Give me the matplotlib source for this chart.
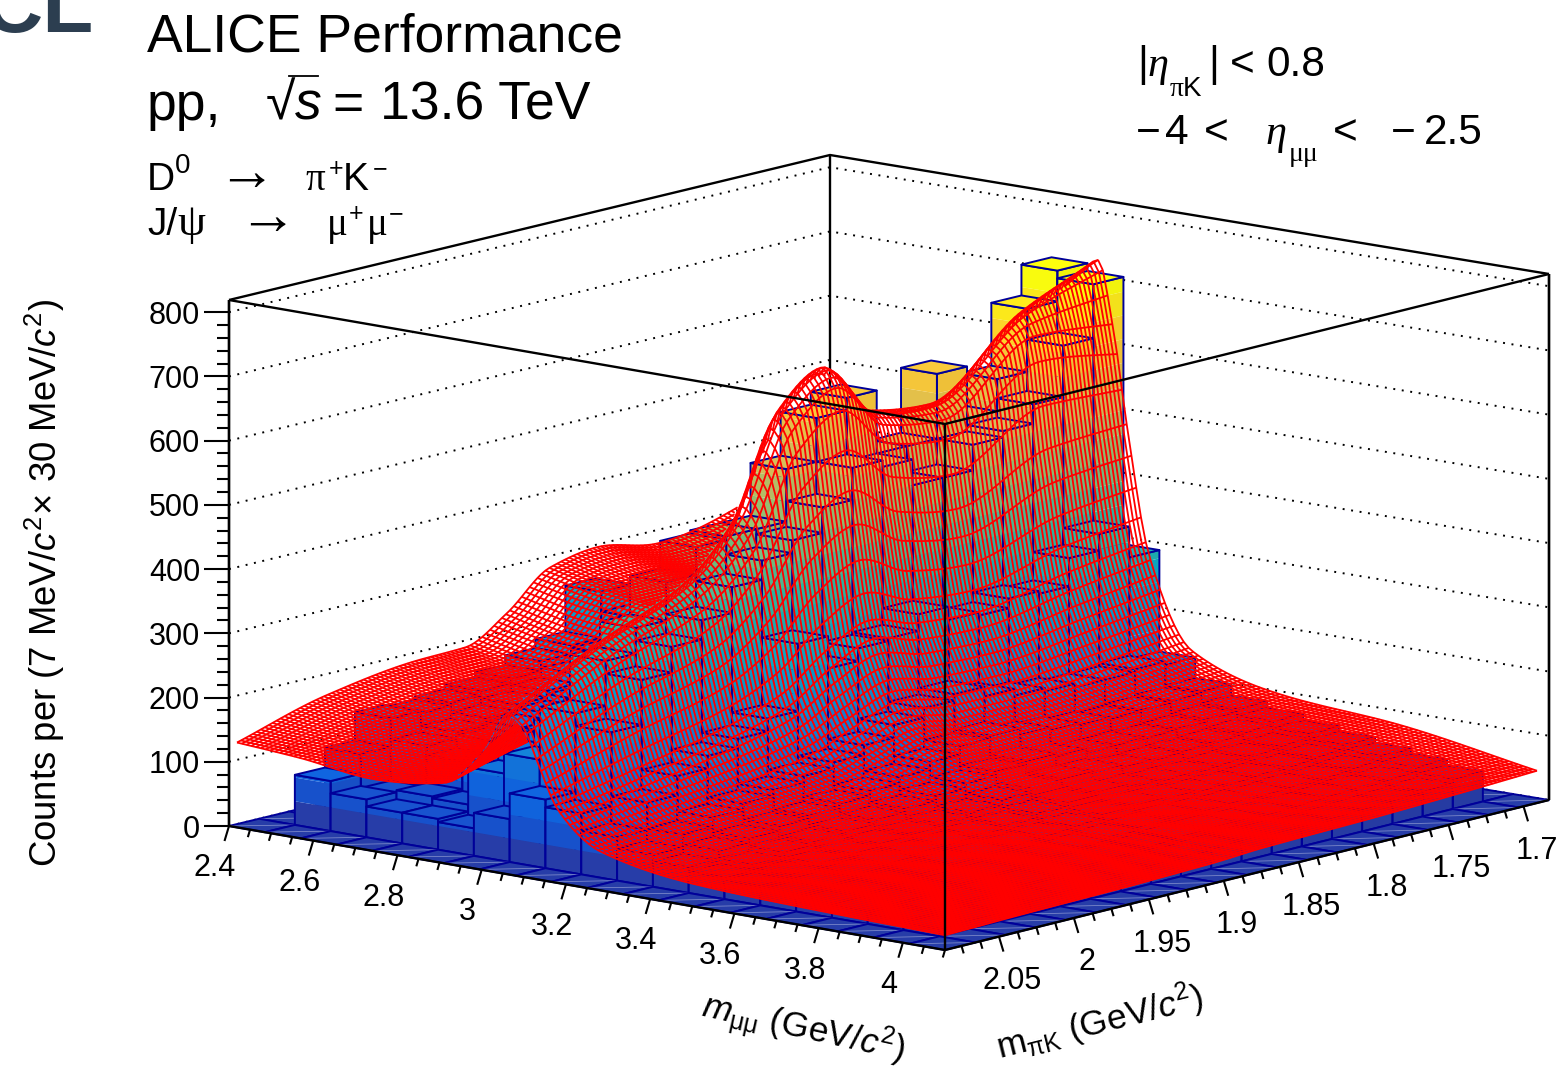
import numpy as np
import matplotlib
matplotlib.use("Agg")
import matplotlib.pyplot as plt
from matplotlib.collections import PolyCollection, LineCollection
from matplotlib.colors import LinearSegmentedColormap

plt.rcParams['font.family'] = ['Liberation Sans', 'DejaVu Sans']
plt.rcParams['mathtext.fontset'] = 'custom'
plt.rcParams['mathtext.rm'] = 'Liberation Sans'
plt.rcParams['mathtext.it'] = 'Liberation Sans:italic'
plt.rcParams['mathtext.bf'] = 'Liberation Sans:bold'

# ---- axis ranges and ticks
M_MIN, M_MAX = 2.4, 4.1
K_MIN, K_MAX = 1.683, 2.086
Z_MAX = 819.0
m_major = [2.4, 2.6, 2.8, 3.0, 3.2, 3.4, 3.6, 3.8, 4.0]
m_labels = ['2.4', '2.6', '2.8', '3', '3.2', '3.4', '3.6', '3.8', '4']
k_major = [1.7, 1.75, 1.8, 1.85, 1.9, 1.95, 2.0, 2.05]
k_labels = ['1.7', '1.75', '1.8', '1.85', '1.9', '1.95', '2', '2.05']
z_major = [0, 100, 200, 300, 400, 500, 600, 700, 800]

# ---- histogram counts: one list per mpiK bin (from high mpiK to low), 20 mmumu bins
c00 = [0] * 20
c01 = [0, 78, 59, 48, 48, 43, 67, 107, 95, 68, 50, 40, 34, 30, 26, 22, 20, 16, 12, 0]
c02 = [0, 109, 56, 62, 59, 117, 148, 230, 210, 110, 70, 55, 42, 36, 30, 26, 22, 20, 14, 0]
c03 = [0, 153, 120, 105, 110, 135, 190, 300, 280, 140, 85, 62, 50, 42, 36, 30, 26, 22, 18, 0]
c04 = [0, 150, 130, 125, 130, 150, 210, 340, 320, 160, 95, 70, 55, 46, 40, 34, 28, 24, 20, 0]
c05 = [0, 155, 140, 135, 135, 160, 230, 400, 350, 175, 105, 75, 60, 50, 44, 38, 30, 26, 22, 0]
c06 = [0, 162, 150, 145, 150, 175, 250, 443, 390, 195, 115, 82, 66, 54, 46, 40, 34, 28, 24, 0]
c07 = [0, 170, 160, 155, 165, 190, 270, 448, 420, 300, 125, 90, 72, 58, 50, 42, 36, 30, 26, 0]
c08 = [0, 185, 175, 170, 180, 205, 300, 448, 440, 250, 140, 100, 80, 64, 54, 46, 38, 32, 28, 0]
c09 = [0, 199, 195, 190, 200, 225, 320, 530, 480, 270, 160, 112, 88, 72, 60, 50, 42, 36, 30, 0]
c10 = [0, 271, 240, 225, 235, 260, 350, 598, 530, 274, 175, 125, 95, 78, 66, 56, 46, 40, 32, 0]
c11 = [0, 250, 250, 240, 245, 270, 360, 618, 520, 300, 185, 130, 100, 82, 70, 60, 50, 42, 34, 0]
c12 = [0, 230, 235, 225, 235, 260, 345, 520, 480, 280, 170, 120, 95, 80, 66, 58, 48, 40, 32, 0]
c13 = [0, 240, 220, 210, 225, 250, 335, 520, 480, 275, 160, 115, 90, 76, 64, 56, 48, 40, 30, 0]
c14 = [0, 250, 225, 215, 225, 255, 340, 621, 520, 290, 155, 112, 90, 76, 64, 56, 48, 42, 32, 0]
c15 = [0, 270, 240, 230, 240, 270, 360, 540, 530, 286, 150, 110, 90, 78, 66, 58, 50, 44, 34, 0]
c16 = [0, 300, 270, 260, 270, 300, 390, 590, 560, 330, 150, 112, 92, 80, 68, 60, 52, 46, 36, 0]
c17 = [0, 360, 310, 300, 310, 340, 430, 688, 640, 356, 155, 115, 96, 84, 72, 64, 56, 48, 40, 0]
c18 = [0, 420, 370, 340, 350, 380, 470, 736, 724, 308, 150, 118, 100, 90, 80, 72, 64, 56, 47, 0]
c19 = [0] * 20

# ---- fit surface read at nodes: one list per mpiK node
surf_m = [2.4, 2.57, 2.74, 2.91, 3.012, 3.063, 3.097, 3.131, 3.182, 3.284, 3.505, 3.76, 4.1]
surf_k = [2.086, 2.026, 1.965, 1.933, 1.905, 1.876, 1.844, 1.804, 1.743, 1.683]
s0 = [133, 125, 112, 125, 190, 250, 235, 185, 113, 60, 35, 28, 23]
s1 = [175, 150, 135, 160, 260, 325, 310, 245, 140, 75, 42, 32, 26]
s2 = [195, 170, 155, 190, 310, 390, 370, 290, 170, 85, 48, 36, 28]
s3 = [197, 175, 165, 210, 360, 470, 445, 350, 195, 95, 52, 38, 30]
s4 = [235, 210, 200, 260, 480, 620, 590, 440, 240, 115, 60, 42, 32]
s5 = [290, 265, 250, 330, 560, 670, 640, 480, 270, 135, 72, 48, 36]
s6 = [305, 270, 245, 310, 490, 585, 565, 430, 250, 125, 72, 50, 38]
s7 = [288, 255, 240, 300, 480, 572, 550, 412, 245, 125, 76, 56, 40]
s8 = [320, 290, 290, 370, 570, 680, 645, 470, 270, 135, 88, 70, 45]
s9 = [430, 427, 510, 630, 715, 740, 630, 480, 290, 150, 104, 90, 51]

# ---- layout of the projected box (pixels)
C_L = np.array([229.0, 826.0])
C_F = np.array([945.0, 950.0])
C_R = np.array([1549.0, 800.0])
C_B = np.array([830.0, 681.0])
Z_PX = 526.0 / Z_MAX


def proj(m, k, z=0.0):
    a = (np.asarray(m, float) - M_MIN) / (M_MAX - M_MIN)
    b = (K_MAX - np.asarray(k, float)) / (K_MAX - K_MIN)
    x = (C_L[0] * (1 - a) * (1 - b) + C_F[0] * a * (1 - b) + C_R[0] * a * b + C_B[0] * (1 - a) * b)
    y = (C_L[1] * (1 - a) * (1 - b) + C_F[1] * a * (1 - b) + C_R[1] * a * b + C_B[1] * (1 - a) * b)
    return np.stack([x, y - np.asarray(z, float) * Z_PX], axis=-1)


def pchip(xn, yn, xq):
    xn = np.asarray(xn, float)
    yn = np.asarray(yn, float)
    h = np.diff(xn)
    d = np.diff(yn) / h
    s = np.zeros_like(yn)
    for i in range(1, len(xn) - 1):
        if d[i - 1] * d[i] > 0:
            w1 = 2 * h[i] + h[i - 1]
            w2 = h[i] + 2 * h[i - 1]
            s[i] = (w1 + w2) / (w1 / d[i - 1] + w2 / d[i])
    s[0] = d[0]
    s[-1] = d[-1]
    idx = np.clip(np.searchsorted(xn, xq) - 1, 0, len(h) - 1)
    t = (xq - xn[idx]) / h[idx]
    return ((1 + 2 * t) * (1 - t) ** 2 * yn[idx] + t * (1 - t) ** 2 * h[idx] * s[idx]
            + t ** 2 * (3 - 2 * t) * yn[idx + 1] + t ** 2 * (t - 1) * h[idx] * s[idx + 1])


fig = plt.figure(figsize=(15.62, 10.66), dpi=100)
ax = fig.add_axes([0, 0, 1, 1])
ax.set_xlim(0, 1562)
ax.set_ylim(1066, 0)
ax.axis('off')

BLACK_LW = 1.7
grid = []
for z in z_major:
    grid.append(np.array([proj(M_MIN, K_MAX, z), proj(M_MIN, K_MIN, z), proj(M_MAX, K_MIN, z)]))
ax.add_collection(LineCollection(grid, colors='k', linewidths=1.4, linestyles=[(0, (1.0, 3.4))], zorder=1))
back = [np.array([proj(M_MIN, K_MAX, Z_MAX), proj(M_MIN, K_MIN, Z_MAX), proj(M_MAX, K_MIN, Z_MAX)]),
        np.array([proj(M_MIN, K_MAX, 0), proj(M_MIN, K_MAX, Z_MAX)]),
        np.array([proj(M_MAX, K_MIN, 0), proj(M_MAX, K_MIN, Z_MAX)]),
        np.array([proj(M_MIN, K_MIN, 0), proj(M_MIN, K_MIN, Z_MAX)])]
ax.add_collection(LineCollection(back, colors='k', linewidths=BLACK_LW, zorder=1.5))

# ---- LEGO bars
counts = np.array([c00, c01, c02, c03, c04, c05, c06, c07, c08, c09, c10, c11, c12, c13, c14, c15, c16, c17, c18, c19], float)
m_edges = np.linspace(M_MIN, M_MAX, 21)
k_edges = np.linspace(K_MAX, K_MIN, 21)
bird = LinearSegmentedColormap.from_list('bird', [
    (0.2082, 0.1664, 0.5293), (0.0592, 0.3599, 0.8684), (0.0780, 0.5041, 0.8385),
    (0.0232, 0.6419, 0.7914), (0.1802, 0.7178, 0.6425), (0.5301, 0.7492, 0.4662),
    (0.8186, 0.7328, 0.3499), (0.9956, 0.7862, 0.1968), (0.9764, 0.9832, 0.0539)])
LEVEL = 36.9
NAVY = (0.0, 0.0, 0.6, 1.0)
NONE = (0, 0, 0, 0)
polys, faces, edges, widths = [], [], [], []


def band_color(z, shade=1.0):
    k = min(int(z / LEVEL), 19)
    c = np.array(bird((k + 1) / 20.0)[:3]) * shade
    return (*np.clip(c, 0, 1), 1.0)


def add(p, fc, ec=NONE, lw=0.0):
    polys.append(np.asarray(p))
    faces.append(fc)
    edges.append(ec)
    widths.append(lw)


for i in range(20):
    for j in range(19, -1, -1):
        z = counts[j, i]
        m0, m1, k0, k1 = m_edges[i], m_edges[i + 1], k_edges[j], k_edges[j + 1]
        if z > 0:
            for zz in np.arange(0, z, LEVEL):
                zt = min(zz + LEVEL, z)
                add([proj(m0, k0, zz), proj(m1, k0, zz), proj(m1, k0, zt), proj(m0, k0, zt)], band_color(zz))
                add([proj(m1, k0, zz), proj(m1, k1, zz), proj(m1, k1, zt), proj(m1, k0, zt)], band_color(zz, 0.97))
            add([proj(m0, k0, 0), proj(m1, k0, 0), proj(m1, k0, z), proj(m0, k0, z)], NONE, NAVY, 1.4)
            add([proj(m1, k0, 0), proj(m1, k1, 0), proj(m1, k1, z), proj(m1, k0, z)], NONE, NAVY, 1.4)
            add([proj(m0, k0, z), proj(m1, k0, z), proj(m1, k1, z), proj(m0, k1, z)], band_color(z - 0.01, 1.02), NAVY, 1.4)
        else:
            add([proj(m0, k0), proj(m1, k0), proj(m1, k1), proj(m0, k1)], band_color(0), NAVY, 1.4)
            add([proj(m0, k0), proj(m1, k1)], NONE, (1, 1, 1, 0.45), 0.5)
ax.add_collection(PolyCollection(polys, facecolors=faces, edgecolors=edges, linewidths=widths, zorder=2))

# ---- fit surface with hidden lines removed through a depth buffer
surf = np.array([s0, s1, s2, s3, s4, s5, s6, s7, s8, s9], float)
N_MESH = 150
mq = np.linspace(M_MIN + 0.019, M_MAX, N_MESH)
kq = np.linspace(K_MAX, K_MIN + 0.008, N_MESH)
tmp = np.array([pchip(surf_m, row, mq) for row in surf])
kasc = np.array(surf_k)[::-1]
Zq = np.array([pchip(kasc, tmp[::-1, c], kq[::-1])[::-1] for c in range(tmp.shape[1])]).T


def sample(m, k):
    """surface position and depth at arbitrary points, bilinear in the mesh"""
    fi = (m - mq[0]) / (mq[1] - mq[0])
    fj = (k - kq[0]) / (kq[1] - kq[0])
    i0 = np.clip(fi.astype(int), 0, N_MESH - 2)
    j0 = np.clip(fj.astype(int), 0, N_MESH - 2)
    ti, tj = fi - i0, fj - j0
    z = (Zq[j0, i0] * (1 - ti) * (1 - tj) + Zq[j0, i0 + 1] * ti * (1 - tj)
         + Zq[j0 + 1, i0] * (1 - ti) * tj + Zq[j0 + 1, i0 + 1] * ti * tj)
    depth = (m - M_MIN) / (M_MAX - M_MIN) - (K_MAX - k) / (K_MAX - K_MIN)
    return proj(m, k, z), depth


fine_m = np.linspace(mq[0], mq[-1], 4200)
fine_k = np.linspace(kq[0], kq[-1], 700)
FM, FK = np.meshgrid(fine_m, fine_k)
fp, fd = sample(FM, FK)
zbuf = np.full((1066, 1562), -9.0)
px = np.clip(fp[..., 0].astype(int), 0, 1561).ravel()
py = np.clip(fp[..., 1].astype(int), 0, 1065).ravel()
np.maximum.at(zbuf, (py, px), fd.ravel())
z2 = zbuf.copy()
z2[1:, :] = np.maximum(z2[1:, :], zbuf[:-1, :])
z2[:-1, :] = np.maximum(z2[:-1, :], zbuf[1:, :])
z2[:, 1:] = np.maximum(z2[:, 1:], zbuf[:, :-1])
z2[:, :-1] = np.maximum(z2[:, :-1], zbuf[:, 1:])
EPS = 0.04


def visible_path(m, k):
    p, d = sample(m, k)
    ix = np.clip(p[:, 0].astype(int), 0, 1561)
    iy = np.clip(p[:, 1].astype(int), 0, 1065)
    out = p.copy()
    out[d < z2[iy, ix] - EPS] = np.nan
    return out


seg = []
sub_m = np.linspace(mq[0], mq[-1], 1200)
sub_k = np.linspace(kq[0], kq[-1], 600)
for kv in kq:
    seg.append(visible_path(sub_m, np.full_like(sub_m, kv)))
for mv in mq:
    seg.append(visible_path(np.full_like(sub_k, mv), sub_k))
ax.add_collection(LineCollection(seg, colors=(1, 0, 0), linewidths=1.3, zorder=3))

# ---- front box lines and axes
front = [np.array([proj(M_MIN, K_MAX, Z_MAX), proj(M_MAX, K_MAX, Z_MAX), proj(M_MAX, K_MIN, Z_MAX)]),
         np.array([proj(M_MAX, K_MAX, 0), proj(M_MAX, K_MAX, Z_MAX)]),
         np.array([proj(M_MIN, K_MAX, 0), proj(M_MAX, K_MAX, 0), proj(M_MAX, K_MIN, 0)]),
         np.array([proj(M_MIN, K_MAX, 0), proj(M_MIN, K_MAX, Z_MAX)]),
         np.array([proj(M_MAX, K_MIN, 0), proj(M_MAX, K_MIN, Z_MAX)])]
ax.add_collection(LineCollection(front, colors='k', linewidths=BLACK_LW, zorder=4))

ticks = []
for z in np.arange(0, 801, 20):
    p = proj(M_MIN, K_MAX, z)
    ticks.append([p, p + ((-25 if z % 100 == 0 else -12), 0)])
for m in np.arange(2.4, 4.101, 0.05):
    p = proj(m, K_MAX)
    major = abs(m / 0.2 - round(m / 0.2)) < 1e-6
    d = np.array([-4.5, 15.0]) if major else np.array([-2.2, 7.5])
    ticks.append([p, p + d])
for kv in np.arange(1.7, 2.0751, 0.0125):
    p = proj(M_MAX, kv)
    major = abs(kv / 0.05 - round(kv / 0.05)) < 1e-6
    d = np.array([4.5, 15.0]) if major else np.array([2.2, 7.5])
    ticks.append([p, p + d])
ax.add_collection(LineCollection(ticks, colors='k', linewidths=1.5, zorder=4))

TICK = 22
for z in z_major:
    p = proj(M_MIN, K_MAX, z)
    ax.text(p[0] - 29, p[1], str(z), fontsize=TICK, ha='right', va='center_baseline')
for m, lab in zip(m_major, m_labels):
    p = proj(m, K_MAX)
    ax.text(p[0] - 14, p[1] + 39, lab, fontsize=TICK, ha='center', va='center_baseline')
for kv, lab in zip(k_major, k_labels):
    p = proj(M_MAX, kv)
    ax.text(p[0] + 13, p[1] + 41, lab, fontsize=TICK, ha='center', va='center_baseline')


def T(x, y, s, size, **kw):
    kw.setdefault('va', 'baseline')
    kw.setdefault('ha', 'left')
    ax.text(x, y, s, fontsize=size, **kw)


SERIF = 'Liberation Serif'
# axis titles
ax.text(45, 583, r'Counts per (7 MeV/$\mathit{c}^{2}\!\times\,$30 MeV/$\mathit{c}^{2}$)', fontsize=26.3,
        rotation=90, ha='center', va='center')
ax.text(803, 1029, r'$\mathit{m}_{\mathrm{\mu\mu}}$ (GeV/$\mathit{c}^{2}$)', fontsize=25.5, rotation=-12.5,
        ha='center', va='center', rotation_mode='anchor')
ax.text(1100, 1022, r'm$_{\mathrm{\pi K}}$ (GeV/$\mathit{c}^{2}$)', fontsize=25.5, rotation=14,
        ha='center', va='center', rotation_mode='anchor')

# top-left texts
T(147, 52, 'ALICE Performance', 38.5)
T(147, 120, 'pp,', 38.5)
T(266, 120, '√', 38.5)
ax.plot([289, 318], [76, 76], color='k', lw=1.3)
T(295, 120, 's', 38.5, style='italic')
T(332, 120, '=', 38.5)
T(380, 120, '13.6 TeV', 38.5)
T(147, 190, 'D', 28)
T(175, 173, '0', 20)
T(217, 190, '→', 42, family=SERIF)
T(305, 190, 'π', 28, family=SERIF)
T(329, 176, '+', 18)
T(343, 190, 'K', 28)
T(373, 176, '−', 18)
T(147, 235, 'J/', 28)
T(177, 235, 'ψ', 32, family=SERIF)
T(238, 234, '→', 42, family=SERIF)
T(327, 235, 'μ', 28, family=SERIF)
T(349, 221, '+', 18)
T(367, 235, 'μ', 28, family=SERIF)
T(389, 221, '−', 18)

# top-right texts
T(1137, 76, '|', 30.5)
T(1147, 76, 'η', 30.5, family=SERIF, style='italic')
T(1170, 96, 'π', 20, family=SERIF)
T(1183, 96, 'K', 20)
T(1208, 76, '|', 30.5)
T(1230, 76, '<', 30.5)
T(1266, 76, '0.8', 30.5)
T(1136, 144, '−', 30.5)
T(1165, 144, '4', 30.5)
T(1204, 144, '<', 30.5)
T(1265, 144, 'η', 30.5, family=SERIF, style='italic')
T(1289, 161, 'μμ', 20, family=SERIF)
T(1333, 144, '<', 30.5)
T(1391, 144, '−', 30.5)
T(1424, 144, '2.5', 30.5)

# clipped mark in the corner
T(-17, 32, 'CL', 60, weight='bold', color='#2c3e50')

fig.savefig('out.png', dpi=100)
